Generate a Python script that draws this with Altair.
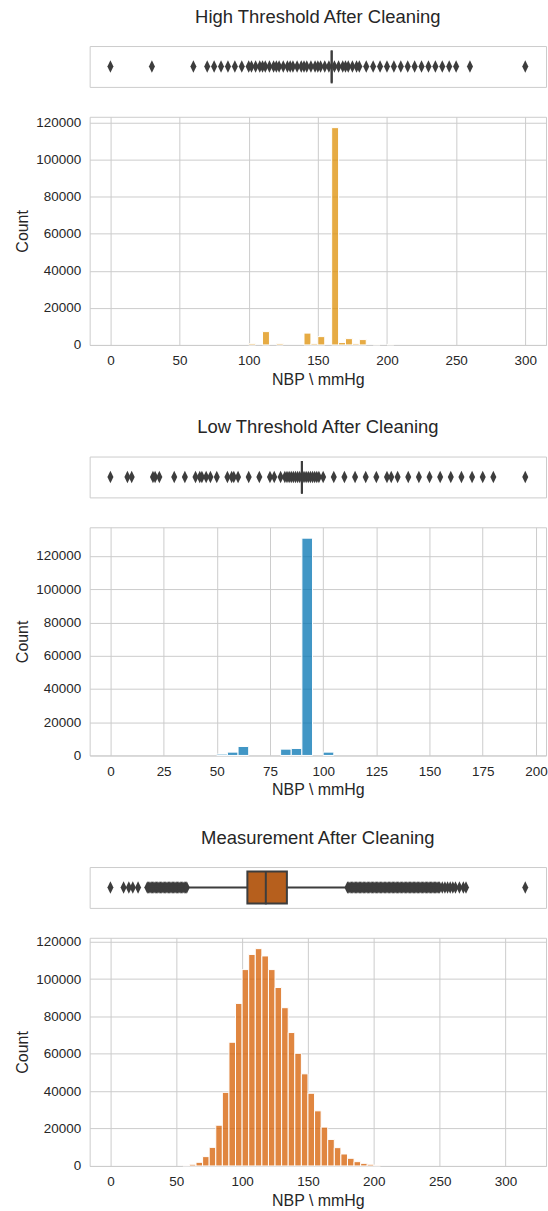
import altair as alt
import pandas as pd

FONT = "Liberation Sans"
TEXT = "#262626"
GRID = "#cccccc"
DARK = "#3d3d3d"
DIAMOND = "M0,-1L0.48,0L0,1L-0.48,0Z"
BIN = 5
PLOT_W = 458
HIST_H = 229
STRIP_H = 41

# ---- High alarm threshold ----
high_bin_start = [100, 110, 120, 140, 145, 150, 160, 165, 170, 175, 180, 190, 200]
high_count = [700, 7200, 700, 6400, 700, 4500, 117300, 1300, 3400, 700, 2900, 300, 300]
high_box = {"wlo": 160, "q1": 160, "med": 160, "q3": 160, "whi": 160}
high_outliers = [0, 30, 60, 70, 75, 80, 85, 90, 95, 100, 102, 105, 108, 110, 112,
                 115, 118, 120, 122, 125, 128, 130, 132, 135, 138, 140, 142, 145,
                 148, 150, 152, 155, 158, 162, 165, 168, 170, 172, 175, 178, 180,
                 185, 190, 195, 200, 205, 210, 215, 220, 225, 230, 235, 240, 245,
                 250, 260, 300]
high_xticks = [0, 50, 100, 150, 200, 250, 300]

# ---- Low alarm threshold ----
low_bin_start = [50, 55, 60, 80, 85, 90, 100]
low_count = [800, 2000, 5400, 3800, 4200, 130700, 2000]
low_box = {"wlo": 90, "q1": 90, "med": 90, "q3": 90, "whi": 90}
low_outliers = [0, 8, 10, 20, 21, 23, 30, 35, 40, 42, 43, 45, 47, 50, 55, 57, 58,
                60, 65, 70, 75, 77, 80, 82, 83, 84, 85, 86, 87, 88, 89, 91, 92, 93,
                94, 95, 96, 97, 98, 100, 105, 110, 115, 120, 125, 130, 132, 135,
                140, 145, 150, 155, 160, 165, 170, 175, 180, 195]
low_xticks = [0, 25, 50, 75, 100, 125, 150, 175, 200]

# ---- Measured NBP ----
meas_bin_start = [55, 60, 65, 70, 75, 80, 85, 90, 95, 100, 105, 110, 115, 120, 125,
                  130, 135, 140, 145, 150, 155, 160, 165, 170, 175, 180, 185, 190,
                  195, 200]
meas_count = [300, 900, 1950, 5000, 9950, 21800, 39400, 66200, 87000, 105100,
              113200, 116300, 112400, 105100, 95500, 84700, 71400, 60300, 49300,
              38900, 29500, 20800, 14200, 9800, 6400, 4100, 2300, 1400, 900, 350]
meas_box = {"wlo": 59, "q1": 104, "med": 118, "q3": 134, "whi": 179}
meas_outliers = [0, 10, 14, 17, 21,
                 28, 29, 30, 31, 32, 33, 34, 35, 36, 37, 38, 39, 40, 41, 42, 43,
                 44, 45, 46, 47, 48, 49, 50, 51, 52, 53, 54, 55, 56, 57, 58,
                 180, 181, 182, 183, 184, 185, 186, 187, 188, 189, 190, 191, 192,
                 193, 194, 195, 196, 197, 198, 199, 200, 201, 202, 203, 204, 205,
                 206, 207, 208, 209, 210, 211, 212, 213, 214, 215, 216, 217, 218,
                 219, 220, 221, 222, 223, 224, 225, 226, 227, 228, 229, 230, 231,
                 232, 233, 234, 235, 236, 237, 238, 239, 240, 241, 242, 243, 244,
                 245, 246, 247, 248, 249, 250, 252, 254, 256, 258, 260, 262, 265,
                 268, 270, 315]
meas_xticks = [0, 50, 100, 150, 200, 250, 300]

y_ticks = [0, 20000, 40000, 60000, 80000, 100000, 120000]


def x_domain(values):
    lo, hi = min(values), max(values)
    pad = (hi - lo) * 0.05
    return [lo - pad, hi + pad]


def strip_chart(box, outliers, xdom, xticks, fill, title):
    box_df = pd.DataFrame([box])
    out_df = pd.DataFrame({"v": outliers})
    sc = alt.Scale(domain=xdom, nice=False, zero=False)
    xaxis = alt.Axis(values=xticks, labels=False, ticks=False, domain=False,
                     grid=True, title=None, labelPadding=0,
                     minExtent=0, maxExtent=0)
    whisk_lo = alt.Chart(box_df).mark_rule(color=DARK, strokeWidth=2).encode(
        x=alt.X("wlo:Q", scale=sc, axis=xaxis), x2="q1:Q", y=alt.value(20.5))
    whisk_hi = alt.Chart(box_df).mark_rule(color=DARK, strokeWidth=2).encode(
        x=alt.X("q3:Q", scale=sc, axis=None), x2="whi:Q", y=alt.value(20.5))
    body = alt.Chart(box_df).mark_bar(fill=fill, stroke=DARK, strokeWidth=2).encode(
        x=alt.X("q1:Q", scale=sc, axis=None), x2="q3:Q",
        y=alt.value(4.5), y2=alt.value(36.5))
    median = alt.Chart(box_df).mark_rule(color=DARK, strokeWidth=2).encode(
        x=alt.X("med:Q", scale=sc, axis=None),
        y=alt.value(4.5), y2=alt.value(37.5))
    fliers = alt.Chart(out_df).mark_point(
        shape=DIAMOND, filled=True, color=DARK, opacity=1, size=160).encode(
        x=alt.X("v:Q", scale=sc, axis=None), y=alt.value(20.5))
    return alt.layer(whisk_lo, whisk_hi, body, median, fliers).properties(
        width=PLOT_W, height=STRIP_H,
        title=alt.Title(title, fontSize=18.5, font=FONT, color=TEXT,
                        fontWeight="normal", anchor="middle", frame="group",
                        baseline="alphabetic", offset=5))


def hist_chart(starts, counts, xdom, xticks, color):
    df = pd.DataFrame({"start": starts,
                       "end": [s + BIN for s in starts],
                       "count": counts})
    ymax = max(counts) * 1.05
    return alt.Chart(df).mark_bar(
        color=color, fillOpacity=0.75, stroke="white", strokeWidth=1).encode(
        x=alt.X("start:Q", scale=alt.Scale(domain=xdom, nice=False, zero=False),
                axis=alt.Axis(values=xticks, title="NBP \\ mmHg", format="d")),
        x2="end:Q",
        y=alt.Y("count:Q", scale=alt.Scale(domain=[0, ymax], nice=False),
                axis=alt.Axis(values=y_ticks, title="Count", format="d")),
        y2=alt.datum(0),
    ).properties(width=PLOT_W, height=HIST_H)


def section(bin_start, counts, box, outliers, xticks, color, box_fill, title, gap):
    xdom = x_domain(outliers + [box["med"]])
    return alt.vconcat(
        strip_chart(box, outliers, xdom, xticks, box_fill, title),
        hist_chart(bin_start, counts, xdom, xticks, color),
        spacing=gap,
    )


# the gap is measured to the histogram's outer bounds, which include the
# top y label when it sits close to the upper edge of the plot
chart = alt.vconcat(
    section(high_bin_start, high_count, high_box, high_outliers, high_xticks,
            "#de8f05", "#de8f05", "High Threshold After Cleaning", 27),
    section(low_bin_start, low_count, low_box, low_outliers, low_xticks,
            "#0173b2", "#0173b2", "Low Threshold After Cleaning", 28),
    section(meas_bin_start, meas_count, meas_box, meas_outliers, meas_xticks,
            "#d55e00", "#b65f1d", "Measurement After Cleaning", 25),
    spacing=30,
).properties(
    padding={"left": 14, "top": 5, "right": 0, "bottom": 0},
    background="white",
).configure_view(
    stroke=GRID, strokeWidth=1,
).configure_axis(
    gridColor=GRID, gridWidth=1, gridOpacity=1, domain=False, ticks=False,
    labelFont=FONT, labelFontSize=13.5, labelColor=TEXT, labelPadding=9,
    titleFont=FONT, titleFontSize=16, titleColor=TEXT, titleFontWeight="normal",
).configure_axisX(
    titlePadding=4,
).configure_axisY(
    titlePadding=5,
)

chart.save("out.html", embed_options={"renderer": "svg", "actions": False})
